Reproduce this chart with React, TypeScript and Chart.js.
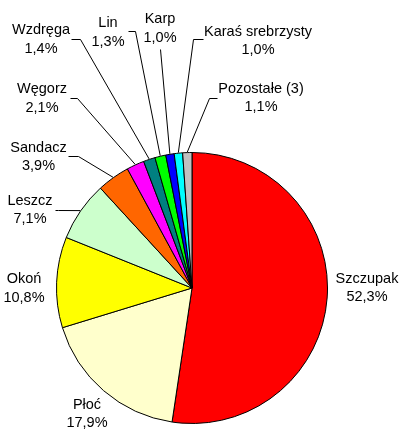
import React, { useEffect, useRef } from "react";
import { Chart, registerables } from "chart.js";

Chart.register(...registerables);

// ---- data ----
const categories = [
  "Szczupak",
  "Płoć",
  "Okoń",
  "Leszcz",
  "Sandacz",
  "Węgorz",
  "Wzdręga",
  "Lin",
  "Karp",
  "Karaś srebrzysty",
  "Pozostałe (3)",
];
const shares = [52.3, 17.9, 10.8, 7.1, 3.9, 2.1, 1.4, 1.3, 1.0, 1.0, 1.1];
const sliceColors = [
  "#FF0000",
  "#FFFFCC",
  "#FFFF00",
  "#CCFFCC",
  "#FF6600",
  "#FF00FF",
  "#008080",
  "#00FF00",
  "#0000FF",
  "#00FFFF",
  "#C0C0C0",
];

// ---- label layout (text block centre, leader stub) ----
type LabelLayout = {
  cx: number;
  cy: number;
  gap: number;
  stub?: [number, number, number, number]; // x1,y1,x2,y2 of stub before going to the pie
};
const labelLayout: LabelLayout[] = [
  { cx: 367, cy: 288, gap: 18 },
  { cx: 87, cy: 414, gap: 18 },
  { cx: 24, cy: 288, gap: 19 },
  { cx: 30, cy: 210, gap: 18, stub: [55, 210, 58, 210] },
  { cx: 38.5, cy: 157, gap: 18, stub: [68, 156, 78, 156] },
  { cx: 42, cy: 98, gap: 19, stub: [70, 98, 77, 98] },
  { cx: 41, cy: 39, gap: 19, stub: [71, 39, 80, 39] },
  { cx: 108, cy: 32, gap: 19, stub: [128, 31, 135, 31] },
  { cx: 160, cy: 28, gap: 19, stub: [160, 49, 160, 49] },
  { cx: 258, cy: 41, gap: 18, stub: [203, 39, 193, 39] },
  { cx: 261, cy: 98, gap: 18, stub: [217, 98, 209, 98] },
];

const FONT = '14.5px "Liberation Sans", Arial, sans-serif';

const pct = (v: number) => v.toFixed(1).replace(".", ",") + "%";

const labelPlugin = {
  id: "excelLabels",
  afterDatasetsDraw(chart: any) {
    const ctx: CanvasRenderingContext2D = chart.ctx;
    const meta = chart.getDatasetMeta(0);
    ctx.save();
    ctx.font = FONT;
    ctx.fillStyle = "#000";
    ctx.textAlign = "center";
    ctx.textBaseline = "middle";
    ctx.strokeStyle = "#000";
    ctx.lineWidth = 1;
    meta.data.forEach((arc: any, i: number) => {
      const L = labelLayout[i];
      if (!L) return;
      const p = arc.getProps(["x", "y", "startAngle", "endAngle", "outerRadius"], true);
      const mid = (p.startAngle + p.endAngle) / 2;
      if (L.stub) {
        const r = p.outerRadius + 0.5;
        const ex = p.x + Math.cos(mid) * r;
        const ey = p.y + Math.sin(mid) * r;
        ctx.beginPath();
        ctx.moveTo(L.stub[0] + 0.5, L.stub[1] + 0.5);
        ctx.lineTo(L.stub[2] + 0.5, L.stub[3] + 0.5);
        ctx.lineTo(ex, ey);
        ctx.stroke();
      }
      ctx.fillText(categories[i], L.cx, L.cy - L.gap / 2);
      ctx.fillText(pct(shares[i]), L.cx, L.cy + L.gap / 2);
    });
    ctx.restore();
  },
};

export default function App() {
  const ref = useRef<HTMLCanvasElement | null>(null);
  useEffect(() => {
    if (!ref.current) return;
    const chart = new Chart(ref.current, {
      type: "pie",
      data: {
        labels: categories,
        datasets: [
          {
            data: shares,
            backgroundColor: sliceColors,
            borderColor: "#000000",
            borderWidth: 1,
          },
        ],
      },
      options: {
        responsive: false,
        animation: false,
        events: [],
        layout: { padding: { left: 56, right: 72, top: 152, bottom: 6 } },
        plugins: {
          legend: { display: false },
          tooltip: { enabled: false },
          title: { display: false },
        },
      },
      plugins: [labelPlugin],
    });
    return () => chart.destroy();
  }, []);
  return (
    <div style={{ position: "fixed", left: 0, top: 0, width: 400, height: 430, background: "#fff" }}>
      <canvas ref={ref} width={400} height={430} style={{ display: "block" }} />
    </div>
  );
}
